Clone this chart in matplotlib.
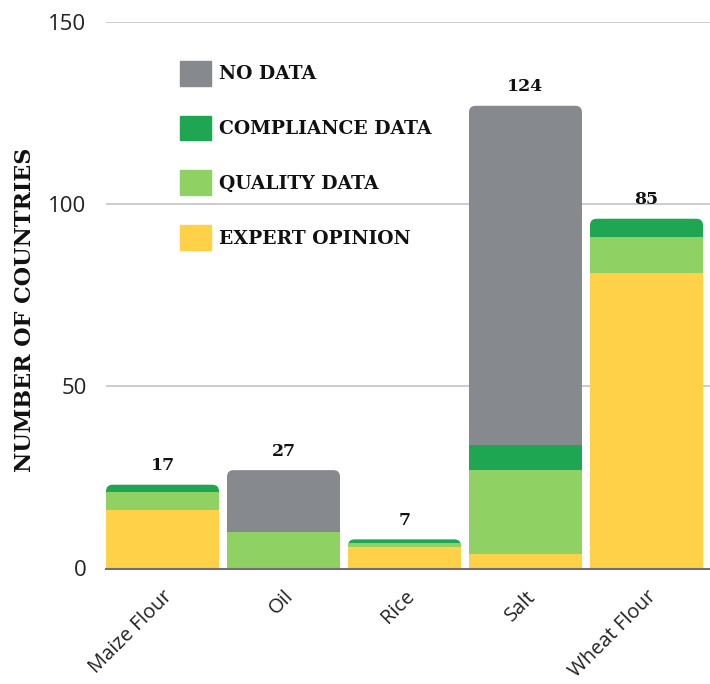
import matplotlib
matplotlib.use("Agg")
import matplotlib.pyplot as plt
from matplotlib.patches import FancyBboxPatch, Patch

# data
foods = ["Maize Flour", "Oil", "Rice", "Salt", "Wheat Flour"]
expert = [16, 0, 6, 4, 81]
quality = [5, 10, 1, 23, 10]
compliance = [2, 0, 1, 7, 5]
no_data = [0, 17, 0, 93, 0]
count_labels = [17, 27, 7, 124, 85]

c_nodata = "#86898d"
c_compl = "#1ea653"
c_qual = "#8fd162"
c_expert = "#fed149"

serif = "DejaVu Serif"
sans = "Open Sans"

fig = plt.figure(figsize=(7.1, 6.84), dpi=100)
ax = fig.add_axes([106 / 710, (684 - 568.5) / 684, 604 / 710, 546.5 / 684])

x = list(range(len(foods)))
w = 0.934
totals = [a + b + c + d for a, b, c, d in zip(expert, quality, compliance, no_data)]

# colour of the topmost segment of each bar
top_cols = []
for i in x:
    if no_data[i] > 0:
        top_cols.append(c_nodata)
    elif compliance[i] > 0:
        top_cols.append(c_compl)
    elif quality[i] > 0:
        top_cols.append(c_qual)
    else:
        top_cols.append(c_expert)

# full-height bar with rounded top, then the lower segments over it
full = ax.bar(x, totals, w, color=top_cols, zorder=2)
aspect = (1 / 3.643) / (1 / 121.0)
for rect in full:
    rx, ry = rect.get_xy()
    p = FancyBboxPatch((rx, ry), rect.get_width(), rect.get_height(),
                       boxstyle="round,pad=0,rounding_size=0.055",
                       mutation_aspect=aspect, facecolor=rect.get_facecolor(),
                       edgecolor="none", zorder=2)
    rect.remove()
    ax.add_patch(p)

b1 = [e + q for e, q in zip(expert, quality)]
ax.bar(x, expert, w, color=c_expert, zorder=3)
ax.bar(x, quality, w, bottom=expert, color=c_qual, zorder=3)
ax.bar(x, [c if n > 0 else 0 for c, n in zip(compliance, no_data)], w,
       bottom=b1, color=c_compl, zorder=3)

for i in x:
    ax.annotate(str(count_labels[i]), (i, totals[i]), xytext=(0, 19),
                textcoords="offset pixels", ha="center", va="center",
                fontsize=12.5, fontweight="bold", family=serif, color="#111111")

ax.set_xlim(-0.467, 4.525)
ax.set_ylim(0, 150)
ax.set_yticks([0, 50, 100, 150])
ax.yaxis.grid(True, color="#c4c4c4", linewidth=1.2)
ax.set_axisbelow(True)
for s in ["top", "right", "left"]:
    ax.spines[s].set_visible(False)
ax.spines["bottom"].set_color("#707070")
ax.spines["bottom"].set_linewidth(1.5)
ax.spines["bottom"].set_zorder(4)
ax.tick_params(axis="y", length=0, pad=14, labelsize=16, labelcolor="#222222")
ax.tick_params(axis="x", length=0, pad=13, labelsize=14.5, labelcolor="#222222")
for t in ax.get_yticklabels():
    t.set_family(sans)
ax.set_xticks(x)
ax.set_xticklabels(foods, rotation=45, ha="right", rotation_mode="anchor",
                   family=sans)

fig.text(25 / 710, 1 - 310 / 684, "NUMBER OF COUNTRIES", rotation=90,
         ha="center", va="center", fontsize=16, fontweight="bold",
         family=serif, color="#111111")

handles = [Patch(color=c_nodata), Patch(color=c_compl),
           Patch(color=c_qual), Patch(color=c_expert)]
names = ["NO DATA", "COMPLIANCE DATA", "QUALITY DATA", "EXPERT OPINION"]
leg = fig.legend(handles, names, loc="upper left",
                 bbox_to_anchor=(180 / 710, 1 - 61 / 684), frameon=False,
                 borderpad=0, borderaxespad=0, handlelength=1.65,
                 handleheight=1.65, handletextpad=0.45, labelspacing=1.6,
                 prop={"family": serif, "weight": "bold", "size": 13.5})
for t in leg.get_texts():
    t.set_color("#111111")

fig.savefig("out.png", dpi=100)
